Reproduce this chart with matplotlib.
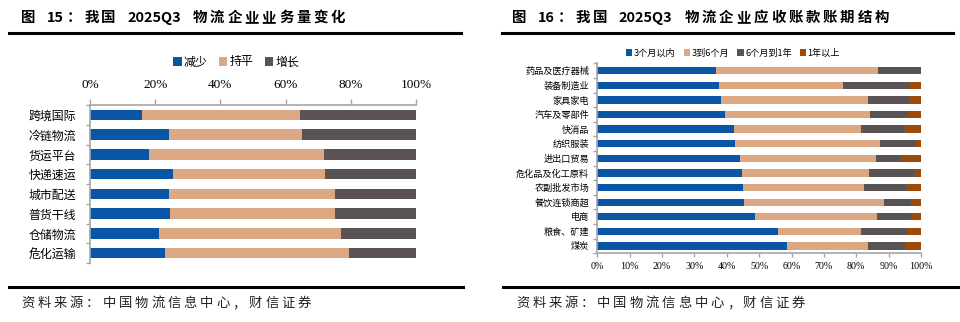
import re
import matplotlib
matplotlib.use("Agg")
import matplotlib.pyplot as plt
import numpy as np
from matplotlib.patches import Patch
from matplotlib.lines import Line2D

plt.rcParams['font.family'] = ['Noto Sans CJK SC', 'DejaVu Sans']

# ---- data: business volume change (left) ----
biz_categories = ["跨境国际", "冷链物流", "货运平台", "快递速运", "城市配送", "普货干线", "仓储物流", "危化运输"]
biz_decrease = [15.8, 24.1, 18.2, 25.6, 24.1, 24.4, 21.2, 23.1]
biz_flat = [48.5, 41.0, 53.6, 46.6, 50.9, 50.6, 55.9, 56.4]
biz_increase = [35.7, 34.9, 28.2, 27.8, 25.0, 25.0, 22.9, 20.5]
biz_series = ["减少", "持平", "增长"]

# ---- data: receivables aging structure (right) ----
ar_categories = ["药品及医疗器械", "装备制造业", "家具家电", "汽车及零部件", "快消品", "纺织服装",
                 "进出口贸易", "危化品及化工原料", "农副批发市场", "餐饮连锁商超", "电商", "粮食、矿建", "煤炭"]
ar_within3m = [36.7, 37.5, 38.3, 39.6, 42.1, 42.5, 44.2, 44.6, 45.0, 45.4, 48.8, 55.7, 58.6]
ar_3to6m = [50.1, 38.5, 45.2, 44.7, 39.4, 44.8, 41.8, 39.3, 37.3, 43.1, 37.6, 25.8, 24.9]
ar_6to12m = [13.2, 20.4, 12.9, 11.7, 13.7, 11.2, 7.9, 14.2, 13.4, 8.3, 10.4, 14.1, 11.7]
ar_over1y = [0.0, 3.6, 3.6, 4.0, 4.8, 1.5, 6.1, 1.9, 4.3, 3.2, 3.2, 4.4, 4.8]
ar_series = ["3个月以内", "3到6个月", "6个月到1年", "1年以上"]

pct_ticks = [0, 20, 40, 60, 80, 100]
pct_ticks_r = list(range(0, 101, 10))

title_left = "图 15：我国 2025Q3 物流企业业务量变化"
title_right = "图 16：我国 2025Q3 物流企业应收账款账期结构"
source_note = "资料来源：中国物流信息中心，财信证券"

BLUE = "#0A56A6"
TAN = "#DCA884"
GREY = "#5A5353"
BROWN = "#9C4A0A"
SPINE = "#A6A6A6"
NUMFONT = ['Liberation Serif', 'Noto Sans CJK SC']

W, H = 960, 322
fig = plt.figure(figsize=(W / 100, H / 100), dpi=100)
renderer = fig.canvas.get_renderer()


def px_axes(x0, x1, ytop, ybot):
    return fig.add_axes([x0 / W, 1 - ybot / H, (x1 - x0) / W, (ybot - ytop) / H])


def hline(x0, x1, y, lw=2.2):
    fig.add_artist(Line2D([x0 / W, x1 / W], [1 - y / H, 1 - y / H], color="black", lw=lw,
                          transform=fig.transFigure))


def spaced_text(x0, x1, y, s, space_px=4.0, **kw):
    """Draw a string token by token (CJK glyphs singly, Latin/digit runs whole),
    spreading the tokens evenly between x0 and x1 (pixels)."""
    tokens = re.findall(r"[A-Za-z0-9]+| |.", s)
    items = []
    for tok in tokens:
        if tok == " ":
            items.append((None, space_px))
            continue
        t = fig.text(0, 1 - y / H, tok, va="center", ha="left", **kw)
        items.append((t, t.get_window_extent(renderer).width))
    total = sum(w for _, w in items)
    gap = (x1 - x0 - total) / (len(items) - 1)
    x = x0
    for t, w in items:
        if t is not None:
            t.set_x(x / W)
        x += w + gap


def stacked(ax, cats, series, colors, height):
    y = np.arange(len(cats))
    left = np.zeros(len(cats))
    for vals, c in zip(series, colors):
        vals = np.asarray(vals, dtype=float)
        ax.barh(y, vals, left=left, height=height, color=c, edgecolor="none")
        left += vals
    ax.set_ylim(len(cats) - 0.5, -0.5)
    ax.set_xlim(0, 100)
    ax.set_yticks(y)
    ax.set_yticks(np.arange(-0.5, len(cats), 1.0), minor=True)
    ax.spines["right"].set_visible(False)
    for s in ["left", "top", "bottom"]:
        ax.spines[s].set_color(SPINE)
        ax.spines[s].set_linewidth(1.2)
    ax.tick_params(axis="y", which="major", length=0)
    ax.tick_params(axis="y", which="minor", length=3, color=SPINE, width=1.0, direction="out")
    return y


# ---------------- left panel ----------------
spaced_text(21, 345, 18, title_left, space_px=6.0, fontsize=10.4, fontweight="bold")
hline(9, 461, 33)

axL = px_axes(90, 416, 105, 263)
stacked(axL, biz_categories, [biz_decrease, biz_flat, biz_increase], [BLUE, TAN, GREY], 0.52)
axL.spines["bottom"].set_visible(False)
axL.xaxis.tick_top()
axL.set_xticks(pct_ticks)
axL.set_xticklabels([f"{t}%" for t in pct_ticks], family=NUMFONT, fontsize=9.5)
axL.tick_params(axis="x", length=4, color=SPINE, width=1.0, pad=6)
axL.set_yticklabels(biz_categories, fontsize=8.6)
axL.tick_params(axis="y", which="major", pad=10)

handlesL = [Patch(facecolor=c, edgecolor="none") for c in [BLUE, TAN, GREY]]
fig.legend(handlesL, biz_series, loc="center", bbox_to_anchor=(236 / W, 1 - 62 / H), ncol=3,
           frameon=False, fontsize=8.6, handlelength=0.7, handleheight=0.7, handletextpad=0.15,
           columnspacing=1.0)

spaced_text(21, 311, 303, source_note, fontsize=9.6, color="#222222")
hline(9, 463, 287)

# ---------------- right panel ----------------
spaced_text(512, 889, 18, title_right, space_px=6.0, fontsize=10.4, fontweight="bold")
hline(502, 953, 33)

axR = px_axes(597.3, 921, 63.4, 253.3)
stacked(axR, ar_categories, [ar_within3m, ar_3to6m, ar_6to12m, ar_over1y],
        [BLUE, TAN, GREY, BROWN], 0.5)
axR.spines["top"].set_visible(False)
axR.set_xticks(pct_ticks_r)
axR.set_xticklabels([f"{t}%" for t in pct_ticks_r], family=NUMFONT, fontsize=7.2)
axR.tick_params(axis="x", length=3, color=SPINE, width=1.0, pad=3)
axR.set_yticklabels(ar_categories, fontsize=6.6)
axR.tick_params(axis="y", which="major", pad=6)

handlesR = [Patch(facecolor=c, edgecolor="none") for c in [BLUE, TAN, GREY, BROWN]]
fig.legend(handlesR, ar_series, loc="center", bbox_to_anchor=(733 / W, 1 - 53 / H), ncol=4,
           frameon=False, fontsize=6.6, handlelength=0.7, handleheight=0.7, handletextpad=0.15,
           columnspacing=0.9)

spaced_text(516, 805, 303, source_note, fontsize=9.6, color="#222222")
hline(503, 960, 287)

fig.savefig("out.png", dpi=100)
